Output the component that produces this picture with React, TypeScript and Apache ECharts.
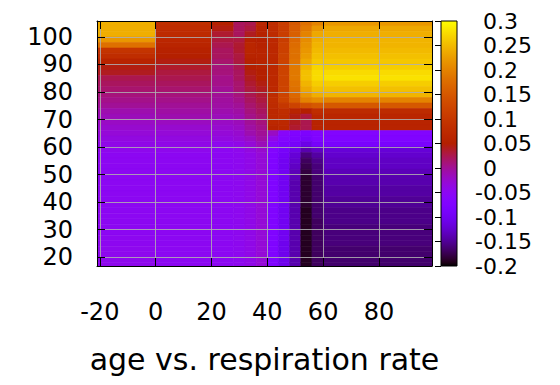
import React, { useEffect, useRef } from "react";
import * as echarts from "echarts";

// ---- axes / ticks ----
const xTicks = [-20, 0, 20, 40, 60, 80];
const yTicks = [20, 30, 40, 50, 60, 70, 80, 90, 100];
const cbTicks = [-0.2, -0.15, -0.1, -0.05, 0, 0.05, 0.1, 0.15, 0.2, 0.25, 0.3];
const xRange = [-21, 99];
const yRange = [16.8, 105.8];
const cbRange = [-0.2, 0.3];
const xTitle = "age vs. respiration rate";

// ---- heat-map cells: rows (y centres, 2 units tall) x column blocks ----
const rowCenters = [105, 103, 101, 99, 97, 95, 93, 91, 89, 87, 85, 83, 81, 79, 77, 75, 73, 71, 69, 67, 65, 63, 61, 59, 57, 55, 53, 51, 49, 47, 45, 43, 41, 39, 37, 35, 33, 31, 29, 27, 25, 23, 21, 19, 17];
const blockEdges = [-21, 0, 20, 28, 32, 36, 40, 44, 48, 52, 56, 60, 99];

const colLeft = [0.24, 0.24, 0.24, 0.22, 0.18, 0.095, 0.08, 0.06, 0.045, 0.04, 0.025, 0.02, 0.015, 0.01, 0.005, 0.0, -0.01, -0.015, -0.02, -0.025, -0.03, -0.035, -0.04, -0.045, -0.05, -0.05, -0.05, -0.05, -0.05, -0.05, -0.05, -0.05, -0.05, -0.05, -0.05, -0.05, -0.05, -0.05, -0.05, -0.048, -0.048, -0.046, -0.046, -0.045, -0.045];
const colB1 = [0.085, 0.08, 0.075, 0.068, 0.062, 0.056, 0.05, 0.045, 0.037, 0.03, 0.025, 0.02, 0.015, 0.01, 0.005, 0.0, -0.005, -0.01, -0.018, -0.025, -0.03, -0.035, -0.04, -0.045, -0.05, -0.05, -0.05, -0.05, -0.05, -0.05, -0.05, -0.05, -0.05, -0.05, -0.05, -0.05, -0.05, -0.05, -0.05, -0.05, -0.05, -0.05, -0.05, -0.05, -0.05];
const colB2 = [0.05, 0.045, 0.035, 0.03, 0.025, 0.02, 0.02, 0.015, 0.01, 0.01, 0.005, 0.005, 0.0, 0.0, -0.003, -0.005, -0.01, -0.015, -0.02, -0.025, -0.03, -0.035, -0.045, -0.05, -0.05, -0.05, -0.05, -0.05, -0.05, -0.05, -0.05, -0.05, -0.05, -0.05, -0.05, -0.05, -0.05, -0.05, -0.05, -0.05, -0.05, -0.05, -0.05, -0.05, -0.05];
const colB3 = [0.02, 0.02, 0.02, 0.03, 0.035, 0.035, 0.03, 0.03, 0.025, 0.02, 0.02, 0.015, 0.015, 0.01, 0.005, 0.0, -0.005, -0.01, -0.015, -0.02, -0.025, -0.03, -0.04, -0.045, -0.047, -0.047, -0.047, -0.047, -0.047, -0.047, -0.047, -0.047, -0.047, -0.047, -0.047, -0.047, -0.047, -0.047, -0.047, -0.047, -0.047, -0.047, -0.047, -0.047, -0.047];
const colB3b = [0.025, 0.03, 0.04, 0.055, 0.065, 0.065, 0.06, 0.055, 0.05, 0.045, 0.04, 0.035, 0.03, 0.025, 0.02, 0.015, 0.01, 0.005, 0.0, -0.005, -0.01, -0.02, -0.03, -0.035, -0.04, -0.04, -0.04, -0.04, -0.04, -0.04, -0.04, -0.04, -0.04, -0.04, -0.04, -0.04, -0.04, -0.04, -0.04, -0.04, -0.04, -0.04, -0.04, -0.04, -0.04];
const colB4 = [0.065, 0.06, 0.055, 0.05, 0.055, 0.06, 0.06, 0.06, 0.055, 0.05, 0.05, 0.045, 0.04, 0.035, 0.03, 0.025, 0.02, 0.015, 0.01, 0.005, 0.0, -0.005, -0.015, -0.025, -0.03, -0.03, -0.03, -0.03, -0.03, -0.03, -0.03, -0.03, -0.03, -0.03, -0.03, -0.03, -0.03, -0.03, -0.03, -0.03, -0.03, -0.03, -0.03, -0.03, -0.03];
const colC1 = [0.08, 0.08, 0.075, 0.07, 0.07, 0.07, 0.07, 0.07, 0.07, 0.07, 0.07, 0.07, 0.07, 0.075, 0.08, 0.075, 0.07, 0.07, 0.07, 0.06, -0.02, -0.04, -0.06, -0.07, -0.075, -0.075, -0.075, -0.075, -0.075, -0.075, -0.075, -0.075, -0.075, -0.075, -0.075, -0.075, -0.075, -0.075, -0.075, -0.075, -0.075, -0.075, -0.075, -0.075, -0.075];
const colC2 = [0.11, 0.11, 0.11, 0.11, 0.115, 0.115, 0.12, 0.12, 0.12, 0.12, 0.12, 0.12, 0.12, 0.12, 0.12, 0.1, 0.08, 0.075, 0.07, 0.065, -0.06, -0.07, -0.08, -0.09, -0.095, -0.1, -0.1, -0.1, -0.1, -0.1, -0.1, -0.1, -0.1, -0.1, -0.1, -0.1, -0.1, -0.1, -0.1, -0.1, -0.105, -0.105, -0.105, -0.105, -0.105];
const colC3 = [0.15, 0.155, 0.16, 0.17, 0.175, 0.18, 0.18, 0.185, 0.19, 0.19, 0.19, 0.185, 0.18, 0.17, 0.16, 0.12, 0.06, 0.045, 0.04, 0.035, -0.075, -0.08, -0.09, -0.11, -0.12, -0.125, -0.13, -0.135, -0.135, -0.14, -0.14, -0.14, -0.14, -0.14, -0.14, -0.14, -0.14, -0.14, -0.14, -0.14, -0.14, -0.14, -0.14, -0.14, -0.14];
const colC4 = [0.18, 0.19, 0.2, 0.21, 0.215, 0.22, 0.225, 0.235, 0.245, 0.255, 0.255, 0.245, 0.235, 0.22, 0.2, 0.14, 0.05, 0.03, 0.025, 0.025, -0.08, -0.09, -0.11, -0.14, -0.16, -0.17, -0.175, -0.18, -0.185, -0.185, -0.185, -0.185, -0.185, -0.185, -0.19, -0.19, -0.19, -0.19, -0.19, -0.19, -0.19, -0.19, -0.19, -0.19, -0.19];
const colC5 = [0.2, 0.22, 0.235, 0.24, 0.245, 0.25, 0.255, 0.26, 0.27, 0.275, 0.275, 0.265, 0.255, 0.24, 0.21, 0.15, 0.08, 0.065, 0.06, 0.06, -0.07, -0.075, -0.09, -0.13, -0.145, -0.155, -0.16, -0.16, -0.165, -0.165, -0.165, -0.165, -0.165, -0.165, -0.165, -0.165, -0.17, -0.17, -0.17, -0.17, -0.17, -0.17, -0.17, -0.17, -0.17];
const colRight = [0.22, 0.235, 0.24, 0.245, 0.245, 0.25, 0.255, 0.26, 0.265, 0.275, 0.28, 0.265, 0.255, 0.245, 0.2, 0.15, 0.075, 0.065, 0.06, 0.06, -0.07, -0.075, -0.085, -0.12, -0.125, -0.13, -0.13, -0.135, -0.14, -0.14, -0.145, -0.145, -0.15, -0.15, -0.155, -0.155, -0.155, -0.16, -0.16, -0.16, -0.16, -0.165, -0.165, -0.165, -0.165];

const blockProfiles = [colLeft, colB1, colB2, colB3, colB3b, colB4, colC1, colC2, colC3, colC4, colC5, colRight];

// gnuplot default pm3d palette (rgbformulae 7,5,15)
function gnuplotColor(t: number): string {
  const r = Math.sqrt(t);
  const g = t * t * t;
  const b = Math.max(0, Math.min(1, Math.sin(2 * Math.PI * t)));
  const h = (v: number) => Math.round(v * 255).toString(16).padStart(2, "0");
  return "#" + h(r) + h(g) + h(b);
}

const FONT = "DejaVu Sans";

export default function App() {
  const ref = useRef<HTMLDivElement>(null);

  useEffect(() => {
    if (!ref.current) return;
    const chart = echarts.init(ref.current, null, { renderer: "svg" });

    const palette: string[] = [];
    for (let i = 0; i <= 64; i++) palette.push(gnuplotColor(i / 64));

    const cells: number[][] = [];
    blockProfiles.forEach((prof, b) => {
      prof.forEach((v, r) => {
        cells.push([blockEdges[b], blockEdges[b + 1], rowCenters[r] - 1, rowCenters[r] + 1, v]);
      });
    });

    const axisLine = { show: true, onZero: false, lineStyle: { color: "#000", width: 1 } };
    const tickStyle = { color: "#000", width: 1 };
    const labelStyle = { color: "#000", fontSize: 24, fontFamily: FONT };
    const gridLine = { show: true, lineStyle: { color: "rgba(175,175,175,0.85)", width: 1 } };

    const option: any = {
      animation: false,
      backgroundColor: "#fff",
      grid: [
        { left: 97, top: 21, width: 335, height: 245, containLabel: false },
        { left: 441, top: 21, width: 16, height: 245, containLabel: false },
      ],
      xAxis: [
        {
          type: "value", gridIndex: 0, min: xRange[0], max: xRange[1], position: "bottom", z: 10,
          axisLine,
          axisTick: { show: true, inside: true, length: 8, lineStyle: tickStyle, customValues: xTicks },
          axisLabel: { ...labelStyle, margin: 34, customValues: xTicks },
          splitLine: gridLine,
          name: xTitle, nameLocation: "middle", nameGap: 78,
          nameTextStyle: { color: "#000", fontSize: 30, fontFamily: FONT },
        },
        {
          type: "value", gridIndex: 0, min: xRange[0], max: xRange[1], position: "top", z: 10,
          axisLine,
          axisTick: { show: true, inside: true, length: 8, lineStyle: tickStyle, customValues: xTicks },
          axisLabel: { show: false },
          splitLine: { show: false },
        },
        { type: "value", gridIndex: 1, min: 0, max: 1, show: false },
      ],
      yAxis: [
        {
          type: "value", gridIndex: 0, min: yRange[0], max: yRange[1], position: "left", z: 10,
          axisLine,
          axisTick: { show: true, inside: true, length: 8, lineStyle: tickStyle, customValues: yTicks },
          axisLabel: { ...labelStyle, margin: 24, align: "right", customValues: yTicks },
          splitLine: gridLine,
        },
        {
          type: "value", gridIndex: 0, min: yRange[0], max: yRange[1], position: "right", z: 10,
          axisLine,
          axisTick: { show: true, inside: true, length: 8, lineStyle: tickStyle, customValues: yTicks },
          axisLabel: { show: false },
          splitLine: { show: false },
        },
        {
          type: "value", gridIndex: 1, min: cbRange[0], max: cbRange[1], position: "right", z: 10,
          axisLine: { show: false },
          axisTick: { show: true, inside: true, length: 6, lineStyle: tickStyle, customValues: cbTicks },
          axisLabel: {
            color: "#000", fontSize: 22, fontFamily: FONT, margin: 18, align: "left", lineHeight: 20, customValues: cbTicks,
            formatter: (v: number) => {
              const s = String(parseFloat(Number(v).toFixed(2)));
              return v >= 0 ? "{p|" + s + "}" : s;
            },
            rich: { p: { padding: [0, 0, 0, 8], fontSize: 22, lineHeight: 20, fontFamily: FONT, color: "#000" } },
          },
          splitLine: { show: false },
        },
      ],
      visualMap: {
        type: "continuous", show: false, min: cbRange[0], max: cbRange[1],
        dimension: 4, seriesIndex: 0, inRange: { color: palette },
      },
      series: [
        {
          type: "custom", xAxisIndex: 0, yAxisIndex: 0, clip: true,
          encode: { x: [0, 1], y: [2, 3] },
          data: cells,
          renderItem: (params: any, api: any) => {
            const p0 = api.coord([api.value(0), api.value(3)]);
            const p1 = api.coord([api.value(1), api.value(2)]);
            const c = api.visual("color");
            return {
              type: "rect",
              shape: { x: p0[0], y: p0[1], width: p1[0] - p0[0], height: p1[1] - p0[1] },
              style: { fill: c, stroke: c, lineWidth: 0.6 },
            };
          },
        },
        {
          type: "custom", xAxisIndex: 2, yAxisIndex: 2,
          encode: { x: [0, 1], y: [2, 3] },
          data: [[0, 1, cbRange[0], cbRange[1]]],
          renderItem: (params: any, api: any) => {
            const p0 = api.coord([api.value(0), api.value(3)]);
            const p1 = api.coord([api.value(1), api.value(2)]);
            const stops = palette.map((c, i) => ({ offset: 1 - i / (palette.length - 1), color: c })).reverse();
            return {
              type: "rect",
              shape: { x: p0[0], y: p0[1], width: p1[0] - p0[0], height: p1[1] - p0[1] },
              style: { fill: new echarts.graphic.LinearGradient(0, 0, 0, 1, stops), stroke: "#000", lineWidth: 1 },
            };
          },
        },
      ],
    };

    chart.setOption(option);
    return () => chart.dispose();
  }, []);

  return (
    <div
      ref={ref}
      style={{ position: "absolute", left: 0, top: 0, width: 560, height: 385 }}
    />
  );
}
